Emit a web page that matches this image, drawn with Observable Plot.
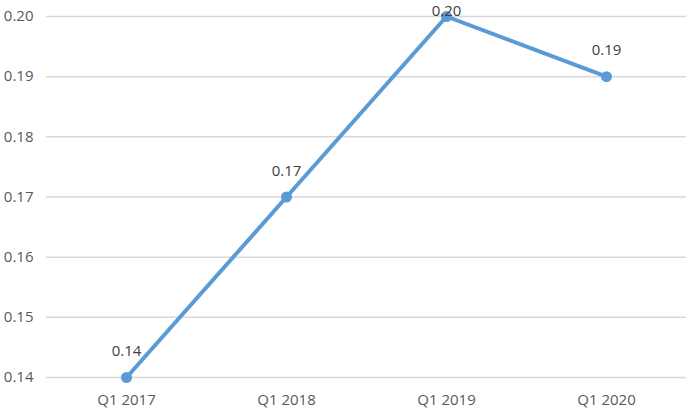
<!DOCTYPE html>
<html><head><meta charset="utf-8">
<script src="https://cdn.jsdelivr.net/npm/d3@7"></script>
<script src="https://cdn.jsdelivr.net/npm/@observablehq/plot@0.6"></script>
<style>body{margin:0;background:#fff;}</style>
</head><body><div id="chart"></div>
<script>
const categories = ["Q1 2017", "Q1 2018", "Q1 2019", "Q1 2020"];
const values = [0.14, 0.17, 0.20, 0.19];
const yTicks = [0.14, 0.15, 0.16, 0.17, 0.18, 0.19, 0.20];
const data = categories.map((c, i) => ({q: c, v: values[i]}));
const yMax = 0.20;
const font = "'Open Sans', sans-serif";
const chart = Plot.plot({
  width: 689, height: 412,
  marginLeft: 46, marginRight: 3, marginTop: 16, marginBottom: 35,
  style: {fontFamily: font, fontSize: "15px", color: "#595959", background: "#fff"},
  x: {type: "band", domain: categories, padding: 0, label: null},
  y: {domain: [0.14, yMax], label: null},
  marks: [
    Plot.gridY(yTicks, {stroke: "#D9D9D9", strokeOpacity: 1, strokeWidth: 1.5}),
    Plot.axisY(yTicks, {tickSize: 0, tickPadding: 13, tickFormat: d3.format(".2f"), fill: "#595959", fontSize: 15}),
    Plot.axisX({tickSize: 0, tickPadding: 17, fill: "#595959", fontSize: 15}),
    Plot.line(data, {x: "q", y: "v", stroke: "#5B9BD5", strokeWidth: 4}),
    Plot.dot(data, {x: "q", y: "v", r: 5.5, fill: "#5B9BD5", stroke: "none"}),
    Plot.text(data.filter(d => d.v < yMax), {x: "q", y: "v", text: d => d.v.toFixed(2), dy: -26, fill: "#404040", fontSize: 15}),
    Plot.text(data.filter(d => d.v >= yMax), {x: "q", frameAnchor: "top", lineAnchor: "middle", text: d => d.v.toFixed(2), dy: -5, fill: "#404040", fontSize: 15})
  ]
});
document.getElementById("chart").appendChild(chart);
</script></body></html>
